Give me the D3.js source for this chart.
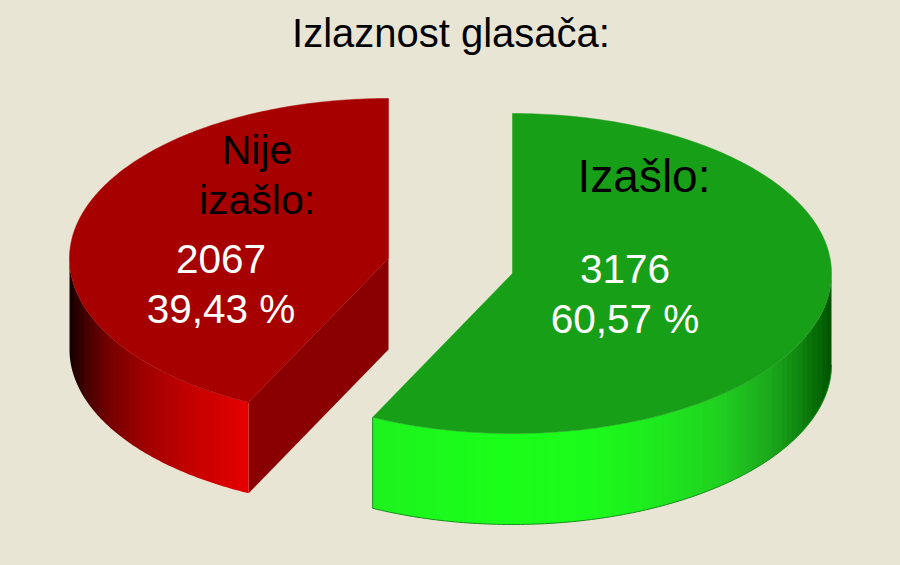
<!DOCTYPE html>
<html><head><meta charset="utf-8">
<script src="https://cdn.jsdelivr.net/npm/d3@7"></script>
<style>html,body{margin:0;padding:0;background:#e9e5d5;overflow:hidden}
text{font-family:"Liberation Sans",Arial,sans-serif}</style></head>
<body><svg id="c" width="900" height="565"></svg>
<script>
const title = "Izlaznost glasača:";
const categories = ["Izašlo", "Nije izašlo"];
const votes = [3176, 2067];
const percents = ["60,57 %", "39,43 %"];

const W = 900, H = 565;
const svg = d3.select("#c").attr("viewBox", [0, 0, W, H]);
svg.append("rect").attr("width", W).attr("height", H).attr("fill", "#e9e5d5");
const defs = svg.append("defs");

const RX = 319, RY = 160, DEPTH = 91;
const total = d3.sum(votes);
// the source's projection compresses the front of the pie
const warp = d3.scaleLinear().domain([0, votes[0] / total * 2 * Math.PI, 2 * Math.PI])
  .range([0, 206 * Math.PI / 180, 2 * Math.PI]);
const arcs = d3.pie().sort(null).value(d => d)(votes);

const slices = [
  { i: 1, cx: 388.5, cy: 258.5, top: "#a60000", wall: "#8a0000", edge: "#8a0000",
    ramp: d3.scaleLinear().domain([70, 85, 110, 150, 190, 225, 248])
      .range(["#140000", "#420000", "#760000", "#a40000", "#c40000", "#d80000", "#e60000"]) },
  { i: 0, cx: 512.5, cy: 273.5, top: "#189f18", wall: null, edge: "#14901a",
    ramp: d3.scaleLinear().domain([373, 430, 500, 590, 660, 720, 770, 800, 818, 831])
      .range(["#1ef21e", "#1cf81c", "#1aff1a", "#1bfb1b", "#1ee81e", "#20d020", "#1ca81c", "#108410", "#046804", "#005400"]) }
];
const lineGen = d3.line().x(d => d[0]).y(d => d[1]);
const px = (s, a) => s.cx + RX * Math.sin(a);
const py = (s, a) => s.cy - RY * Math.cos(a);

slices.forEach(s => {
  const a0 = warp(arcs[s.i].startAngle), a1 = warp(arcs[s.i].endAngle);
  const g = svg.append("g");
  const sample = d3.range(0, 241).map(t => a0 + (a1 - a0) * t / 240);
  if (s.wall) {
    g.append("path").attr("fill", s.wall).attr("d", lineGen([
      [s.cx, s.cy], [px(s, a0), py(s, a0)], [px(s, a0), py(s, a0) + DEPTH], [s.cx, s.cy + DEPTH]
    ]) + "Z");
  }
  // rim: the front half of the slice, filled with narrow vertical bands
  const front = sample.filter(a => Math.cos(a) <= 0);
  const ring = front.map(a => [px(s, a), py(s, a)])
    .concat(front.slice().reverse().map(a => [px(s, a), py(s, a) + DEPTH]));
  const id = "rim" + s.i;
  defs.append("clipPath").attr("id", id).append("path").attr("d", lineGen(ring) + "Z");
  const rimG = g.append("g").attr("clip-path", `url(#${id})`);
  const xs = d3.extent(ring, d => d[0]);
  const ys = d3.extent(ring, d => d[1]);
  const bandW = 5;
  for (let x = Math.floor(xs[0]); x < xs[1]; x += bandW) {
    rimG.append("rect").attr("x", x).attr("y", ys[0]).attr("width", bandW).attr("height", ys[1] - ys[0])
      .attr("shape-rendering", "crispEdges").attr("fill", d3.rgb(s.ramp(x + bandW / 2)).formatHex());
  }
  if (!s.wall) {
    const rimLow = front.map(a => [px(s, a), py(s, a) + DEPTH]);
    g.append("path").attr("fill", "none").attr("stroke", s.edge).attr("stroke-width", 1)
      .attr("d", lineGen(rimLow));
    const e = a1 > Math.PI ? a1 : a0;
    g.append("path").attr("fill", "none").attr("stroke", s.edge).attr("stroke-width", 1)
      .attr("d", lineGen([[px(s, e), py(s, e)], [px(s, e), py(s, e) + DEPTH]]));
  }
  g.append("path").attr("fill", s.top).attr("stroke", s.top).attr("stroke-width", 0.5)
    .attr("d", lineGen([[s.cx, s.cy]].concat(sample.map(a => [px(s, a), py(s, a)]))) + "Z");
});

const text = (x, y, str, size, fill) => svg.append("text")
  .attr("x", x).attr("y", y).attr("text-anchor", "middle")
  .attr("font-size", size).attr("fill", fill).text(str);

text(451, 47, title, 40, "#000");
text(644, 192, categories[0] + ":", 46, "#000");
text(257, 164, categories[1].split(" ")[0], 41, "#000");
text(257, 214, categories[1].split(" ")[1] + ":", 41, "#000");
text(625, 283, votes[0], 40.5, "#fff");
text(625, 333, percents[0], 40.5, "#fff");
text(221, 273, votes[1], 40.5, "#fff");
text(221, 323, percents[1], 40.5, "#fff");
</script></body></html>
